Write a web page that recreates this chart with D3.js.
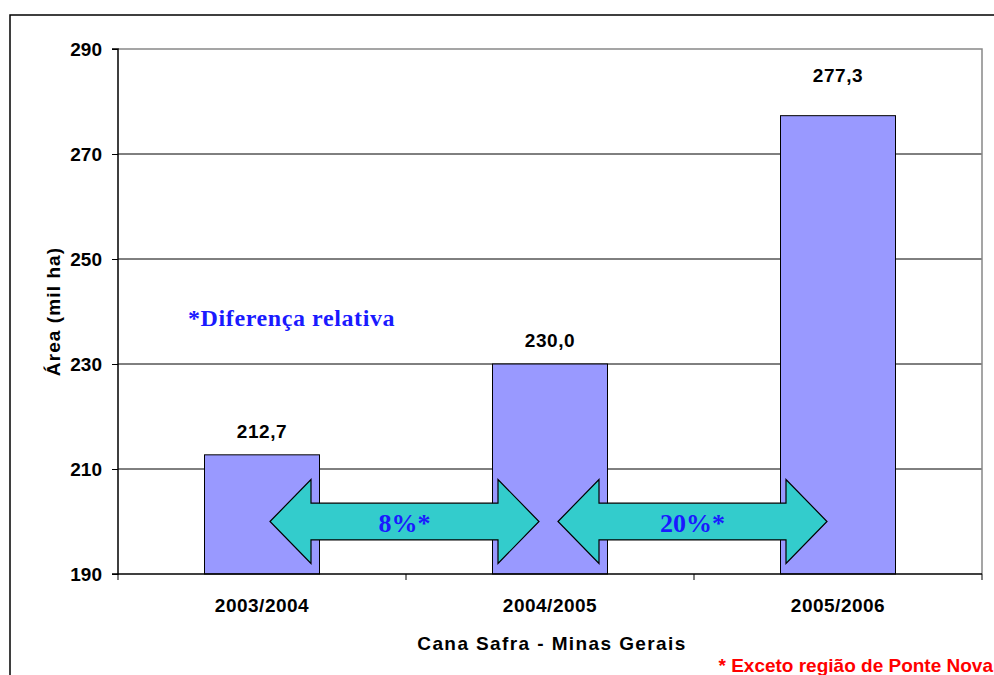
<!DOCTYPE html>
<html><head><meta charset="utf-8">
<script src="https://cdn.jsdelivr.net/npm/d3@7"></script>
<style>
body{margin:0;background:#fff;}
svg{display:block;font-family:"Liberation Sans",Arial,sans-serif;}
</style></head>
<body>
<svg id="c" width="994" height="675"></svg>
<script>
const categories = ["2003/2004","2004/2005","2005/2006"];
const values = [212.7, 230.0, 277.3];
const valueLabels = ["212,7","230,0","277,3"];
const yTicks = [190,210,230,250,270,290];
const arrows = [{from:0,to:1,label:"8%*"},{from:1,to:2,label:"20%*"}];

const svg = d3.select("#c");
const m = {left:118, top:49, right:982, bottom:574};
const FONT = '"Liberation Sans",Arial,sans-serif';
const SERIF = '"Liberation Serif","Times New Roman",serif';

// outer frame (left & top)
svg.append("path").attr("d","M10,675 L10,15 L994,15").attr("fill","none").attr("stroke","#000").attr("stroke-width",1.5);

const x = d3.scaleBand().domain(categories).range([m.left,m.right]).paddingInner(0).paddingOuter(0);
const y = d3.scaleLinear().domain([190,290]).range([m.bottom,m.top]);

// gridlines
svg.append("g").selectAll("line").data(yTicks.filter(t=>t>190 && t<290)).join("line")
  .attr("x1",m.left).attr("x2",m.right).attr("y1",d=>y(d)).attr("y2",d=>y(d))
  .attr("stroke","#000").attr("stroke-width",1);
// plot border top/right grey
svg.append("path").attr("d",`M${m.left},${y(290)} L${m.right},${y(290)} L${m.right},${m.bottom}`)
  .attr("fill","none").attr("stroke","#888").attr("stroke-width",1.5);

// bars
const bw = 115;
svg.append("g").selectAll("rect").data(values).join("rect")
  .attr("x",(d,i)=>x(categories[i])+x.bandwidth()/2-bw/2)
  .attr("width",bw)
  .attr("y",d=>y(d)).attr("height",d=>y(190)-y(d))
  .attr("fill","#9999FF").attr("stroke","#000").attr("stroke-width",1);

// value labels (last one placed higher, as in the original)
const labelGap = [17,17,34];
svg.append("g").selectAll("text").data(values).join("text")
  .attr("x",(d,i)=>x(categories[i])+x.bandwidth()/2)
  .attr("y",(d,i)=>y(d)-labelGap[i])
  .attr("text-anchor","middle").attr("font-weight","bold").attr("font-size",19).attr("letter-spacing",0.6)
  .text((d,i)=>valueLabels[i]);

// y axis
const yAxis = d3.axisLeft(y).tickValues(yTicks).tickSize(6).tickPadding(10).tickFormat(d3.format("d"));
const gy = svg.append("g").attr("transform",`translate(${m.left},0)`).call(yAxis);
gy.select(".domain").attr("stroke","#000").attr("stroke-width",1.5).attr("d",`M-6,${m.top}H0V${m.bottom}H-6`);
gy.selectAll(".tick line").attr("stroke","#000");
gy.selectAll(".tick text").attr("font-size",19).attr("font-weight","bold").attr("fill","#000")
  .attr("font-family",FONT).attr("dy","0.35em");

// x axis
const xAxis = d3.axisBottom(x).tickSize(0).tickPadding(0);
const gx = svg.append("g").attr("transform",`translate(0,${m.bottom})`).call(xAxis);
gx.select(".domain").attr("stroke","#000").attr("stroke-width",1.5).attr("d",`M${m.left},0H${m.right}`);
gx.selectAll(".tick text").attr("font-size",19).attr("font-weight","bold").attr("fill","#000")
  .attr("font-family",FONT).attr("y",38).attr("dy",0).attr("letter-spacing",0.5);
// category boundary ticks
const bounds = categories.map(c=>x(c)).concat([m.right]);
gx.append("g").selectAll("line").data(bounds).join("line")
  .attr("x1",d=>d).attr("x2",d=>d).attr("y1",0).attr("y2",6).attr("stroke","#000").attr("stroke-width",1);

// axis titles
svg.append("text").attr("x",(m.left+m.right)/2+2).attr("y",650).attr("text-anchor","middle")
  .attr("font-weight","bold").attr("font-size",19).attr("letter-spacing",1.4).text("Cana Safra - Minas Gerais");
svg.append("text").attr("transform",`translate(60,${(m.top+m.bottom)/2}) rotate(-90)`).attr("text-anchor","middle")
  .attr("font-weight","bold").attr("font-size",19).attr("letter-spacing",1.1).text("Área (mil ha)");

// arrows
const cx = i => x(categories[i])+x.bandwidth()/2;
const ag = svg.append("g");
arrows.forEach(a=>{
  const x0 = cx(a.from)+8, x1 = cx(a.to)-11;
  const yc = y(200), hh = y(192)-yc, sh = y(196.5)-yc, hl = 41;
  const pts = [[x0,yc],[x0+hl,yc-hh],[x0+hl,yc-sh],[x1-hl,yc-sh],[x1-hl,yc-hh],[x1,yc],
               [x1-hl,yc+hh],[x1-hl,yc+sh],[x0+hl,yc+sh],[x0+hl,yc+hh]];
  ag.append("path").attr("d","M"+pts.map(p=>p.join(",")).join("L")+"Z")
    .attr("fill","#33CCCC").attr("stroke","#000").attr("stroke-width",1.2);
  ag.append("text").attr("x",(x0+x1)/2).attr("y",yc+10.5).attr("text-anchor","middle")
    .attr("font-family",SERIF).attr("font-weight","bold")
    .attr("font-size",26).attr("fill","#1a1aff").text(a.label);
});

// annotation
svg.append("text").attr("x",188).attr("y",326)
  .attr("font-family",SERIF).attr("font-weight","bold")
  .attr("font-size",24).attr("letter-spacing",0.6).attr("fill","#1a1aff").text("*Diferença relativa");

// footnote
svg.append("text").attr("x",993).attr("y",672).attr("text-anchor","end")
  .attr("font-weight","bold").attr("font-size",19).attr("fill","#ff0000").text("* Exceto região de Ponte Nova");
</script>
</body></html>
